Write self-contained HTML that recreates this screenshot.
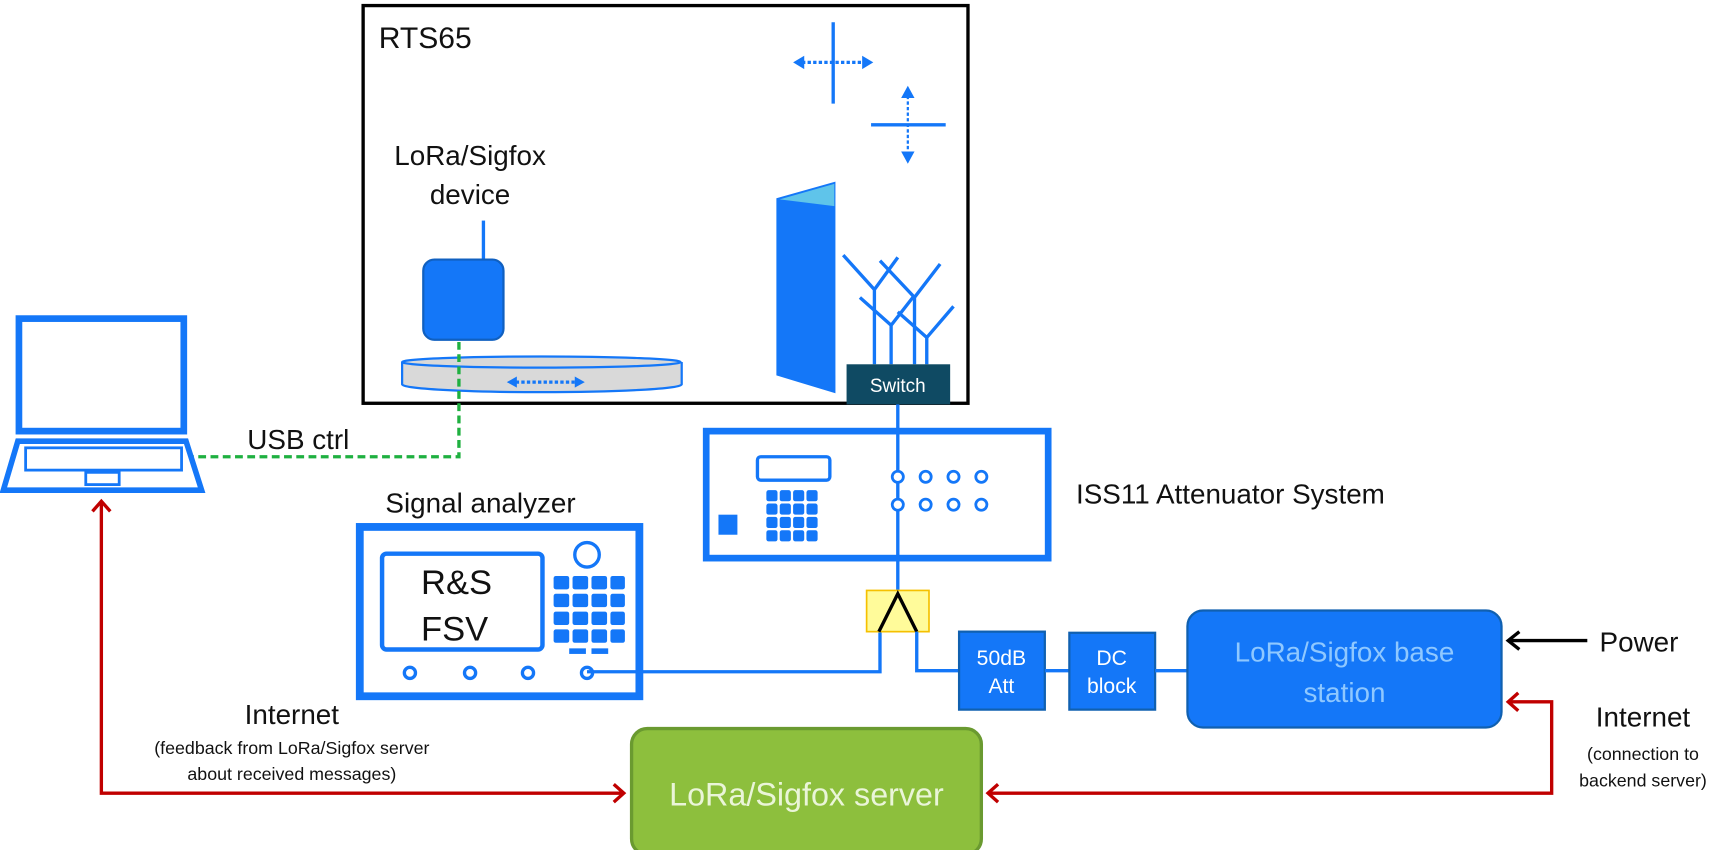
<!DOCTYPE html>
<html><head><meta charset="utf-8"><style>
html,body{margin:0;padding:0;background:#fff;}
svg{display:block;}
text{font-family:"Liberation Sans",sans-serif;}
</style></head><body>
<svg width="1731" height="850" viewBox="0 0 1554 763" preserveAspectRatio="none" xmlns="http://www.w3.org/2000/svg">
<defs>
<marker id="ah" markerWidth="8" markerHeight="8" refX="6" refY="4" orient="auto" markerUnits="userSpaceOnUse"><path d="M0,0 L7,4 L0,8" fill="#1477f8"/></marker>
</defs>
<!-- RTS65 -->
<rect x="326" y="5" width="543" height="357" fill="#fff" stroke="#000" stroke-width="3"/>
<text x="340" y="43" font-size="27" fill="#111">RTS65</text>
<!-- crosses -->
<line x1="748" y1="20" x2="748" y2="93" stroke="#1477f8" stroke-width="3"/>
<line x1="720" y1="56" x2="776" y2="56" stroke="#1477f8" stroke-width="3" stroke-dasharray="3,2"/>
<path d="M712,56 L722,50 L722,62Z M784,56 L774,50 L774,62Z" fill="#1477f8"/>
<line x1="782" y1="112" x2="849" y2="112" stroke="#1477f8" stroke-width="3"/>
<line x1="815" y1="86" x2="815" y2="138" stroke="#1477f8" stroke-width="2" stroke-dasharray="3,2"/>
<path d="M815,77 L809,88 L821,88Z M815,147 L809,136 L821,136Z" fill="#1477f8"/>
<text x="422" y="148" font-size="25" fill="#111" text-anchor="middle">LoRa/Sigfox</text>
<text x="422" y="183" font-size="25" fill="#111" text-anchor="middle">device</text>
<line x1="434" y1="198" x2="434" y2="235" stroke="#1477f8" stroke-width="3"/>
<rect x="380" y="233" width="72" height="72" rx="10" fill="#1477f8" stroke="#1060c0" stroke-width="2"/>
<!-- turntable -->
<path d="M361,325 L361,345 A125,7 0 0 0 612,345 L612,325" fill="#d9d9d9" stroke="#1477f8" stroke-width="2"/>
<ellipse cx="486" cy="325" rx="125" ry="5" fill="#d9d9d9" stroke="#1477f8" stroke-width="2"/>
<line x1="463" y1="343" x2="517" y2="343" stroke="#1477f8" stroke-width="3" stroke-dasharray="3,2"/>
<path d="M455,343 L464,338 L464,348Z M525,343 L516,338 L516,348Z" fill="#1477f8"/>
<!-- green dashed -->
<polyline points="412,307 412,410 172,410" fill="none" stroke="#1fb040" stroke-width="3" stroke-dasharray="7,4"/>
<text x="222" y="403" font-size="25" fill="#111">USB ctrl</text>
<!-- horn -->
<polygon points="697,178 750,163 750,353 697,337" fill="#1477f8"/>
<polygon points="700,179 749,165 749,185" fill="#5fc4ea"/>
<!-- antennas -->
<g stroke="#1477f8" stroke-width="3" fill="none">
<path d="M757,229 L785,260 L806,231 M785,260 L785,327"/>
<path d="M790,234 L821,267 L844,237 M821,267 L821,327"/>
<path d="M772,267 L800,292 L821,265 M800,292 L800,327"/>
<path d="M806,280 L832,303 L856,275 M832,303 L832,327"/>
</g>
<rect x="760" y="327" width="93" height="36" fill="#0f4a63"/>
<text x="806" y="352" font-size="17" fill="#fff" text-anchor="middle">Switch</text>
<!-- attenuator -->
<line x1="806" y1="363" x2="806" y2="533" stroke="#1477f8" stroke-width="3"/>
<rect x="634" y="387" width="307" height="114" fill="none" stroke="#1477f8" stroke-width="6"/>
<rect x="680" y="410" width="65" height="21" rx="3" fill="#fff" stroke="#1477f8" stroke-width="3"/>
<g fill="#1477f8">
<rect x="645" y="462" width="17" height="18"/>
<rect x="688" y="440" width="10" height="10" rx="2"/><rect x="700" y="440" width="10" height="10" rx="2"/><rect x="712" y="440" width="10" height="10" rx="2"/><rect x="724" y="440" width="10" height="10" rx="2"/>
<rect x="688" y="452" width="10" height="10" rx="2"/><rect x="700" y="452" width="10" height="10" rx="2"/><rect x="712" y="452" width="10" height="10" rx="2"/><rect x="724" y="452" width="10" height="10" rx="2"/>
<rect x="688" y="464" width="10" height="10" rx="2"/><rect x="700" y="464" width="10" height="10" rx="2"/><rect x="712" y="464" width="10" height="10" rx="2"/><rect x="724" y="464" width="10" height="10" rx="2"/>
<rect x="688" y="476" width="10" height="10" rx="2"/><rect x="700" y="476" width="10" height="10" rx="2"/><rect x="712" y="476" width="10" height="10" rx="2"/><rect x="724" y="476" width="10" height="10" rx="2"/>
</g>
<g fill="#fff" stroke="#1477f8" stroke-width="2.5">
<circle cx="806" cy="428" r="5"/><circle cx="831" cy="428" r="5"/><circle cx="856" cy="428" r="5"/><circle cx="881" cy="428" r="5"/>
<circle cx="806" cy="453" r="5"/><circle cx="831" cy="453" r="5"/><circle cx="856" cy="453" r="5"/><circle cx="881" cy="453" r="5"/>
</g>
<text x="966" y="452" font-size="25" fill="#111">ISS11 Attenuator System</text>
<!-- signal analyzer -->
<text x="346" y="460" font-size="25" fill="#111">Signal analyzer</text>
<rect x="323" y="473" width="251" height="152" fill="#fff" stroke="#1477f8" stroke-width="7"/>
<rect x="343" y="497" width="144" height="86" rx="4" fill="#fff" stroke="#1477f8" stroke-width="4"/>
<text x="378" y="533" font-size="31" fill="#111">R&amp;S</text>
<text x="378" y="575" font-size="31" fill="#111">FSV</text>
<circle cx="527" cy="498" r="11" fill="#fff" stroke="#1477f8" stroke-width="3"/>
<g fill="#1477f8">
<rect x="497" y="517" width="14" height="12" rx="2"/><rect x="514" y="517" width="14" height="12" rx="2"/><rect x="531" y="517" width="14" height="12" rx="2"/><rect x="548" y="517" width="13" height="12" rx="2"/>
<rect x="497" y="533" width="14" height="12" rx="2"/><rect x="514" y="533" width="14" height="12" rx="2"/><rect x="531" y="533" width="14" height="12" rx="2"/><rect x="548" y="533" width="13" height="12" rx="2"/>
<rect x="497" y="549" width="14" height="12" rx="2"/><rect x="514" y="549" width="14" height="12" rx="2"/><rect x="531" y="549" width="14" height="12" rx="2"/><rect x="548" y="549" width="13" height="12" rx="2"/>
<rect x="497" y="565" width="14" height="12" rx="2"/><rect x="514" y="565" width="14" height="12" rx="2"/><rect x="531" y="565" width="14" height="12" rx="2"/><rect x="548" y="565" width="13" height="12" rx="2"/>
<rect x="511" y="582" width="15" height="5"/><rect x="531" y="582" width="15" height="5"/>
</g>
<g fill="#fff" stroke="#1477f8" stroke-width="3">
<circle cx="368" cy="604" r="5"/><circle cx="422" cy="604" r="5"/><circle cx="474" cy="604" r="5"/><circle cx="527" cy="604" r="5"/>
</g>
<polyline points="527,603 790,603 790,567" fill="none" stroke="#1477f8" stroke-width="3"/>
<!-- splitter -->
<rect x="778" y="530" width="56" height="37" fill="#fffb9a" stroke="#f5c000" stroke-width="1.5"/>
<polyline points="789,567 806,533 823,567" fill="none" stroke="#000" stroke-width="3"/>
<polyline points="823,567 823,602 861,602" fill="none" stroke="#1477f8" stroke-width="3"/>
<!-- att & dc -->
<rect x="861" y="567" width="77" height="70" fill="#1477f8" stroke="#1060b0" stroke-width="2"/>
<text x="899" y="597" font-size="19" fill="#fff" text-anchor="middle">50dB</text>
<text x="899" y="622" font-size="19" fill="#fff" text-anchor="middle">Att</text>
<line x1="938" y1="602" x2="960" y2="602" stroke="#1477f8" stroke-width="3"/>
<rect x="960" y="568" width="77" height="69" fill="#1477f8" stroke="#1060b0" stroke-width="2"/>
<text x="998" y="597" font-size="19" fill="#fff" text-anchor="middle">DC</text>
<text x="998" y="622" font-size="19" fill="#fff" text-anchor="middle">block</text>
<line x1="1037" y1="602" x2="1066" y2="602" stroke="#1477f8" stroke-width="3"/>
<rect x="1066" y="548" width="282" height="105" rx="14" fill="#1477f8" stroke="#1060b0" stroke-width="2"/>
<text x="1207" y="594" font-size="25" fill="#8fc8ff" text-anchor="middle">LoRa/Sigfox base</text>
<text x="1207" y="630" font-size="25" fill="#8fc8ff" text-anchor="middle">station</text>
<!-- power -->
<line x1="1354" y1="575" x2="1425" y2="575" stroke="#000" stroke-width="3"/>
<polyline points="1364,567 1354,575 1364,583" fill="none" stroke="#000" stroke-width="3"/>
<text x="1436" y="585" font-size="25" fill="#111">Power</text>
<!-- server -->
<rect x="567" y="654" width="314" height="113" rx="14" fill="#8dbf3d" stroke="#6a9a30" stroke-width="3"/>
<text x="724" y="723" font-size="29" fill="#eaf5d8" text-anchor="middle">LoRa/Sigfox server</text>
<!-- red lines -->
<g fill="none" stroke="#c00000" stroke-width="3">
<polyline points="1354,630 1393,630 1393,712 887,712"/>
<polyline points="1363,622 1354,630 1363,638"/>
<polyline points="896,704 887,712 896,720"/>
<polyline points="91,450 91,712 560,712"/>
<polyline points="83,459 91,450 99,459"/>
<polyline points="551,704 560,712 551,720"/>
</g>
<text x="1475" y="652" font-size="25" fill="#111" text-anchor="middle">Internet</text>
<text x="1475" y="682" font-size="16" fill="#111" text-anchor="middle">(connection to</text>
<text x="1475" y="706" font-size="16" fill="#111" text-anchor="middle">backend server)</text>
<text x="262" y="650" font-size="25" fill="#111" text-anchor="middle">Internet</text>
<text x="262" y="677" font-size="16" fill="#111" text-anchor="middle">(feedback from LoRa/Sigfox server</text>
<text x="262" y="700" font-size="16" fill="#111" text-anchor="middle">about received messages)</text>
<!-- laptop -->
<rect x="17" y="286" width="148" height="101" fill="#fff" stroke="#1477f8" stroke-width="6"/>
<polygon points="16,396 167,396 181,440 3,440" fill="#fff" stroke="#1477f8" stroke-width="5"/>
<rect x="23" y="402" width="140" height="20" fill="#fff" stroke="#1477f8" stroke-width="2.5"/>
<rect x="77" y="424" width="30" height="11" fill="#fff" stroke="#1477f8" stroke-width="2.5"/>
</svg>
</body></html>
